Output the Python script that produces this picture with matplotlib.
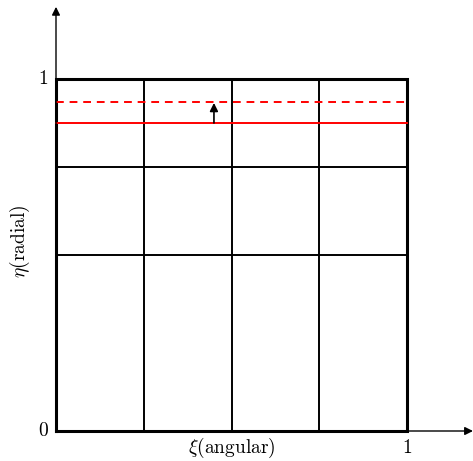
import numpy as np
import matplotlib
matplotlib.use('Agg')
import matplotlib.pyplot as plt

plt.rcParams['font.family'] = 'serif'
plt.rcParams['font.serif'] = ['cmr10', 'DejaVu Serif']
plt.rcParams['mathtext.fontset'] = 'cm'
plt.rcParams['axes.unicode_minus'] = False

# grid of the (xi, eta) domain
x_grid = [0.0, 0.25, 0.5, 0.75, 1.0]
y_grid = [0.0, 0.5, 0.75, 1.0]

# red interface lines: current and moved
y_old = 0.875
y_new = 0.935
x_move = 0.45

fig = plt.figure(figsize=(4.73, 4.61), dpi=100)
ax = fig.add_axes([0, 0, 1, 1])
ax.set_xlim(-56 / 351, (473 - 56) / 351)
ax.set_ylim(-30 / 352, 431 / 352)
ax.axis('off')

# inner grid lines
for x in x_grid[1:-1]:
    ax.plot([x, x], [0, 1], color='black', lw=1.4)
for y in y_grid[1:-1]:
    ax.plot([0, 1], [y, y], color='black', lw=1.4)

# outer box
ax.plot([0, 1, 1, 0, 0], [0, 0, 1, 1, 0], color='black', lw=2.2, solid_joinstyle='miter')

# red lines
ax.plot([0, 1], [y_old, y_old], color='red', lw=1.4)
ax.plot([0, 1], [y_new, y_new], color='red', lw=1.4, ls=(0, (4, 3)))

# movement arrow
ax.annotate('', xy=(x_move, y_new - 0.003), xytext=(x_move, y_old),
            arrowprops=dict(arrowstyle='-|>', lw=1.2, color='black', mutation_scale=12,
                            shrinkA=0, shrinkB=0))

# coordinate axes with arrows
ax.annotate('', xy=(1.188, 0), xytext=(0, 0),
            arrowprops=dict(arrowstyle='-|>', lw=1.0, color='black', mutation_scale=12,
                            shrinkA=0, shrinkB=0))
ax.annotate('', xy=(0, 1.205), xytext=(0, 0),
            arrowprops=dict(arrowstyle='-|>', lw=1.0, color='black', mutation_scale=12,
                            shrinkA=0, shrinkB=0))

# labels
ax.text(-0.022, 1.0, '1', ha='right', va='center', fontsize=14)
ax.text(-0.022, 0.0, '0', ha='right', va='center', fontsize=14)
ax.text(1.0, -0.022, '1', ha='center', va='top', fontsize=14)
ax.text(0.5, -0.015, r'$\xi$(angular)', ha='center', va='top', fontsize=14)
ax.text(-0.103, 0.54, r'$\eta$(radial)', ha='center', va='center', fontsize=14, rotation=90)

fig.savefig('out.png', dpi=100)
